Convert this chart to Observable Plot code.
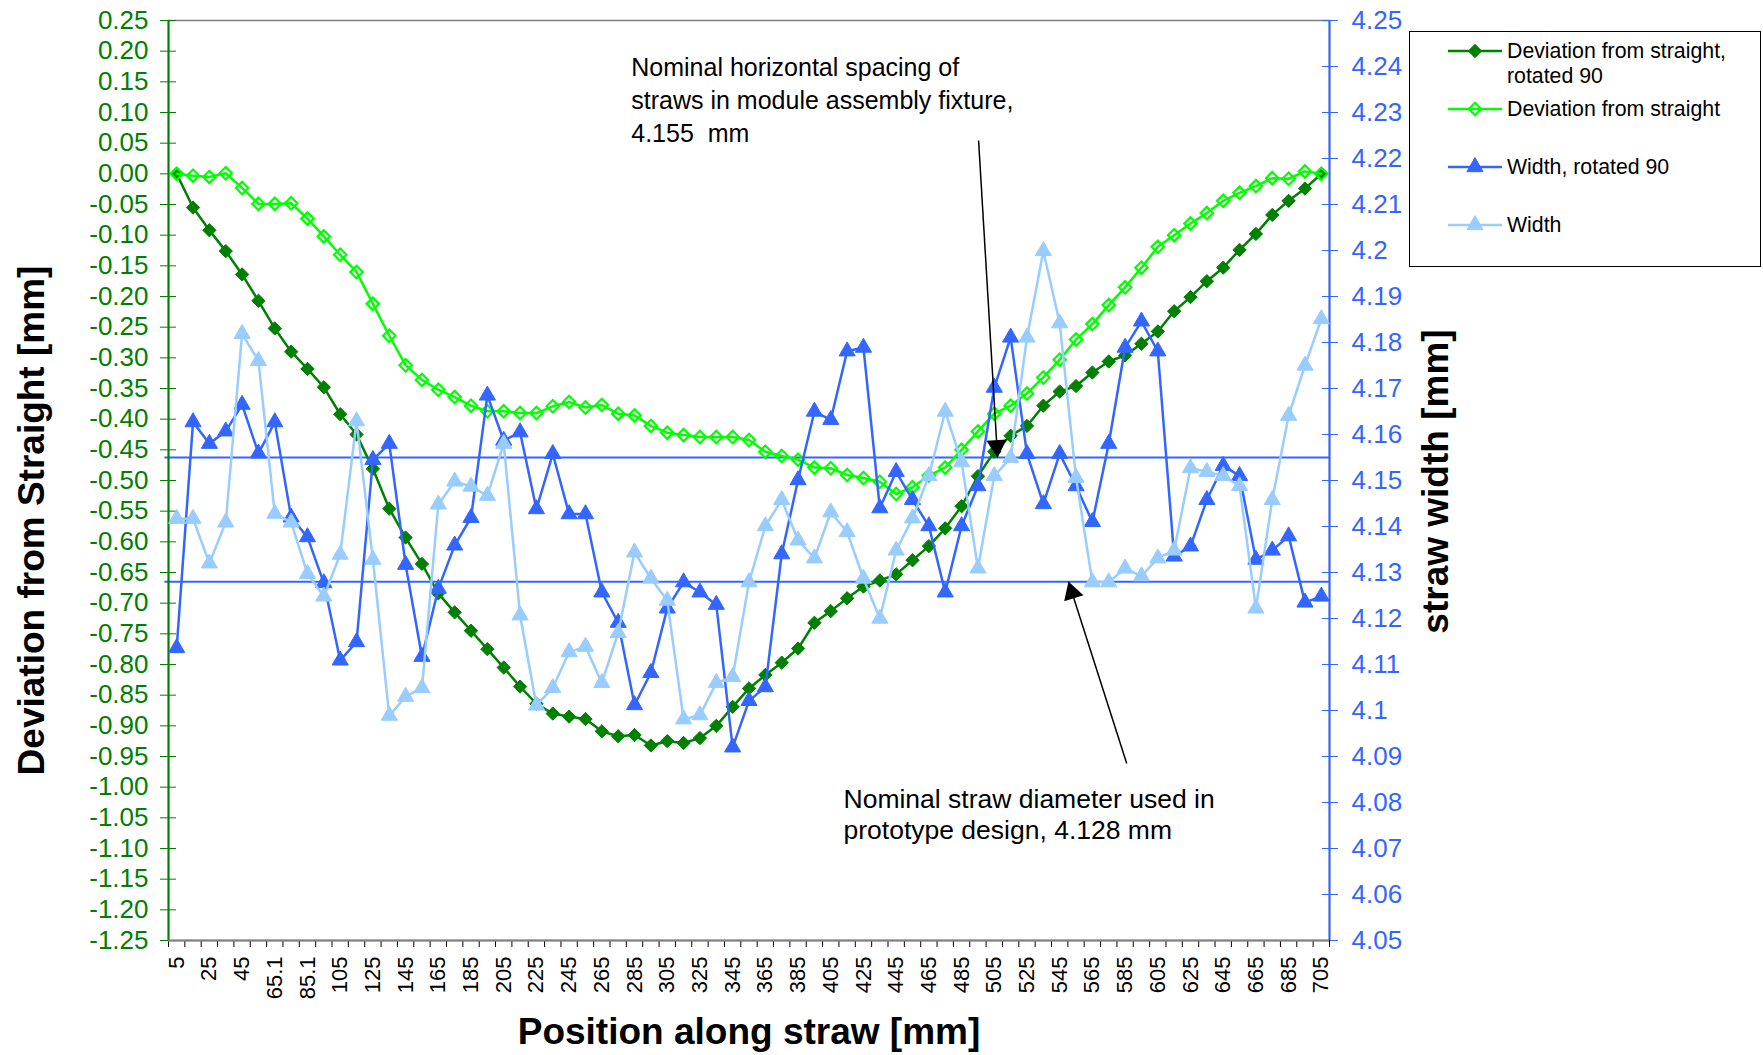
<!DOCTYPE html>
<html>
<head>
<meta charset="utf-8">
<script src="https://cdn.jsdelivr.net/npm/d3@7"></script>
<script src="https://cdn.jsdelivr.net/npm/@observablehq/plot@0.6"></script>
<style>
  html, body { margin: 0; padding: 0; background: #fff; }
  body { font-family: "Liberation Sans", Arial, sans-serif; }
  #wrap { position: relative; width: 1763px; height: 1055px; overflow: hidden; }
  #legend { position: absolute; left: 1409px; top: 31px; width: 352px; height: 236px;
            border: 1.5px solid #000; box-sizing: border-box; background: #fff; }
</style>
</head>
<body>
<div id="wrap"><div id="chart"></div><div id="legend"></div></div>
<script>
// ---------- data ----------
const positions = ["5","15","25","35","45","55","65.1","75","85.1","95","105","115","125","135","145","155","165","175","185","195","205","215","225","235","245","255","265","275","285","295","305","315","325","335","345","355","365","375","385","395","405","415","425","435","445","455","465","475","485","495","505","515","525","535","545","555","565","575","585","595","605","615","625","635","645","655","665","675","685","695","705"];

const devRotated = [0, -0.055, -0.092, -0.126, -0.164, -0.207, -0.252, -0.290, -0.318, -0.348,
  -0.392, -0.425, -0.481, -0.546, -0.593, -0.636, -0.684, -0.715, -0.745, -0.775,
  -0.805, -0.836, -0.864, -0.880, -0.885, -0.889, -0.909, -0.917, -0.915, -0.932,
  -0.925, -0.928, -0.920, -0.900, -0.869, -0.839, -0.817, -0.797, -0.774, -0.732,
  -0.713, -0.692, -0.673, -0.663, -0.653, -0.630, -0.607, -0.578, -0.542, -0.493,
  -0.453, -0.427, -0.411, -0.378, -0.355, -0.346, -0.324, -0.306, -0.296, -0.277,
  -0.257, -0.224, -0.201, -0.175, -0.153, -0.124, -0.098, -0.067, -0.044, -0.024,
  0];

const deviation = [0, -0.003, -0.005, 0.001, -0.023, -0.049, -0.049, -0.048, -0.073, -0.102,
  -0.132, -0.160, -0.212, -0.264, -0.312, -0.336, -0.352, -0.364, -0.378, -0.387,
  -0.387, -0.390, -0.390, -0.379, -0.372, -0.381, -0.377, -0.391, -0.394, -0.411,
  -0.422, -0.426, -0.429, -0.429, -0.429, -0.434, -0.453, -0.460, -0.466, -0.479,
  -0.480, -0.491, -0.496, -0.502, -0.522, -0.511, -0.492, -0.479, -0.450, -0.420,
  -0.391, -0.378, -0.358, -0.332, -0.303, -0.270, -0.245, -0.214, -0.185, -0.153,
  -0.119, -0.100, -0.081, -0.064, -0.044, -0.031, -0.020, -0.007, -0.008, 0.004,
  0];

const widthRotated = [4.1136, 4.1627, 4.1580, 4.1607, 4.1665, 4.1559, 4.1627, 4.1420, 4.1377, 4.1277,
  4.1109, 4.1149, 4.1545, 4.1580, 4.1317, 4.1117, 4.1265, 4.1359, 4.1419, 4.1685,
  4.1587, 4.1605, 4.1438, 4.1558, 4.1427, 4.1427, 4.1257, 4.1191, 4.1012, 4.1082,
  4.1222, 4.1279, 4.1257, 4.1230, 4.0920, 4.1021, 4.1051, 4.1340, 4.1501, 4.1650,
  4.1632, 4.1781, 4.1789, 4.1440, 4.1519, 4.1458, 4.1401, 4.1257, 4.1401, 4.1488,
  4.1702, 4.1811, 4.1558, 4.1449, 4.1558, 4.1488, 4.1410, 4.1580, 4.1789, 4.1846,
  4.1781, 4.1335, 4.1357, 4.1458, 4.1532, 4.1510, 4.1328, 4.1348, 4.1379, 4.1235,
  4.1248];

const width = [4.1417, 4.1417, 4.1320, 4.1409, 4.1819, 4.1760, 4.1428, 4.1409, 4.1297, 4.1248,
  4.1339, 4.1629, 4.1328, 4.0989, 4.1030, 4.1049, 4.1448, 4.1498, 4.1487, 4.1467,
  4.1580, 4.1207, 4.1011, 4.1049, 4.1127, 4.1139, 4.1060, 4.1169, 4.1344, 4.1287,
  4.1239, 4.0981, 4.0990, 4.1060, 4.1073, 4.1279, 4.1401, 4.1458, 4.1370, 4.1331,
  4.1431, 4.1388, 4.1287, 4.1200, 4.1348, 4.1418, 4.1510, 4.1650, 4.1540, 4.1309,
  4.1510, 4.1549, 4.1811, 4.1999, 4.1842, 4.1506, 4.1279, 4.1279, 4.1309, 4.1292,
  4.1331, 4.1348, 4.1527, 4.1519, 4.1510, 4.1488, 4.1222, 4.1458, 4.1641, 4.1750,
  4.1851];

const leftTickLabels = ["0.25","0.20","0.15","0.10","0.05","0.00","-0.05","-0.10","-0.15","-0.20","-0.25","-0.30","-0.35","-0.40","-0.45","-0.50","-0.55","-0.60","-0.65","-0.70","-0.75","-0.80","-0.85","-0.90","-0.95","-1.00","-1.05","-1.10","-1.15","-1.20","-1.25"];
const rightTickLabels = ["4.25","4.24","4.23","4.22","4.21","4.2","4.19","4.18","4.17","4.16","4.15","4.14","4.13","4.12","4.11","4.1","4.09","4.08","4.07","4.06","4.05"];

const referenceWidths = [4.155, 4.128];

const seriesNames = ["Deviation from straight,\nrotated 90", "Deviation from straight", "Width, rotated 90", "Width"];

const annotations = [
  {text: "Nominal horizontal spacing of\nstraws in module assembly fixture,\n4.155  mm", x: 27.8, y: 0.197, size: 25, lh: 1.32},
  {text: "Nominal straw diameter used in\nprototype design, 4.128 mm", x: 40.78, y: -0.997, size: 26.5, lh: 1.19}
];
// arrows: tail (x1,y1 left-axis units) -> tip at a reference width line
const arrows = [
  {x1: 49.04, y1: 0.0543, x2: 50.2, w2: 4.155, rotate: 176.7, hx: -0.7, hy: -11.5},
  {x1: 58.1, y1: -0.9614, x2: 54.54, w2: 4.128, rotate: -17.8, hx: 3.5, hy: 11}
];

// ---------- helpers ----------
const W_MIN = 4.05, W_MAX = 4.25, D_MIN = -1.25, D_MAX = 0.25;
const toLeft = w => D_MIN + (w - W_MIN) / (W_MAX - W_MIN) * (D_MAX - D_MIN);

const rows = positions.map((p, i) => ({
  i, pos: p,
  devRot: devRotated[i], dev: deviation[i],
  wRot: toLeft(widthRotated[i]), w: toLeft(width[i])
}));

const leftTickVals = leftTickLabels.map(Number);
const rightTickVals = rightTickLabels.map(s => toLeft(+s));
const rightMap = new Map(rightTickLabels.map(s => [toLeft(+s).toFixed(4), s]));
const leftMap = new Map(leftTickLabels.map(s => [(+s).toFixed(4), s]));
const edges = positions.map((p, i) => i - 0.5).concat([positions.length - 0.5]);
const labelIdx = positions.map((p, i) => i).filter(i => i % 2 === 0);

const C = {dkGreen: "#008000", ltGreen: "#00ff00", blue: "#3366ff", ltBlue: "#99ccff"};
const FONT = "'Liberation Sans', Arial, sans-serif";

const chart = Plot.plot({
  width: 1763, height: 1055,
  marginLeft: 168, marginRight: 434, marginTop: 20, marginBottom: 115,
  x: {domain: [-0.5, positions.length - 0.5], axis: null},
  y: {domain: [D_MIN, D_MAX], axis: null},
  style: {fontFamily: FONT, background: "white", overflow: "visible"},
  marks: [
    Plot.frame({stroke: "#808080", strokeWidth: 1.5}),
    // reference lines
    Plot.ruleY(referenceWidths, {y: d => toLeft(d), x1: -0.72, x2: positions.length - 0.5, stroke: C.blue, strokeWidth: 2}),
    // axes
    Plot.axisY({anchor: "left", ticks: leftTickVals, tickFormat: d => leftMap.get(d.toFixed(4)), tickSize: 16, dx: 8, tickPadding: 12, color: C.dkGreen, fontSize: 26, label: null}),
    Plot.axisY({anchor: "right", ticks: rightTickVals, tickFormat: d => rightMap.get(d.toFixed(4)), tickSize: 16, dx: -8, tickPadding: 14, color: C.blue, fontSize: 26, label: null}),
    Plot.axisX({ticks: edges, tickSize: 7, tickFormat: () => "", color: "#000", label: null}),
    Plot.axisX({ticks: labelIdx, tickSize: 0, tickPadding: 16, tickRotate: -90, tickFormat: i => positions[i], color: "#000", fontSize: 22, label: null}),
    Plot.ruleX([-0.5], {stroke: C.dkGreen, strokeWidth: 2}),
    Plot.ruleX([positions.length - 0.5], {stroke: C.blue, strokeWidth: 2}),
    Plot.ruleY([D_MIN], {stroke: "#808080", strokeWidth: 2}),
    // series
    Plot.line(rows, {x: "i", y: "devRot", stroke: C.dkGreen, strokeWidth: 2.5}),
    Plot.dot(rows, {x: "i", y: "devRot", symbol: "diamond2", r: 6, fill: C.dkGreen, stroke: C.dkGreen, strokeWidth: 1}),
    Plot.line(rows, {x: "i", y: "dev", stroke: C.ltGreen, strokeWidth: 2.5}),
    Plot.dot(rows, {x: "i", y: "dev", symbol: "diamond2", r: 5.6, fill: "none", stroke: C.ltGreen, strokeWidth: 2.2}),
    Plot.line(rows, {x: "i", y: "wRot", stroke: C.blue, strokeWidth: 2.5}),
    Plot.dot(rows, {x: "i", y: "wRot", symbol: "triangle", r: 6, fill: C.blue, stroke: C.blue, strokeWidth: 1}),
    Plot.line(rows, {x: "i", y: "w", stroke: C.ltBlue, strokeWidth: 2.5}),
    Plot.dot(rows, {x: "i", y: "w", symbol: "triangle", r: 6, fill: C.ltBlue, stroke: C.ltBlue, strokeWidth: 1}),
    // annotations
    Plot.text(annotations.slice(0, 1), {x: "x", y: "y", text: "text", textAnchor: "start", lineAnchor: "top", lineHeight: annotations[0].lh, fontSize: annotations[0].size, fill: "#000"}),
    Plot.text(annotations.slice(1), {x: "x", y: "y", text: "text", textAnchor: "start", lineAnchor: "top", lineHeight: annotations[1].lh, fontSize: annotations[1].size, fill: "#000"}),
    Plot.link(arrows, {x1: "x1", y1: "y1", x2: "x2", y2: d => toLeft(d.w2), stroke: "#000", strokeWidth: 1.5}),
    Plot.dot(arrows, {x: "x2", y: d => toLeft(d.w2), symbol: "triangle", r: 7.5, fill: "#000", stroke: "none", rotate: "rotate"}),
    // axis titles
    Plot.text(["Deviation from Straight [mm]"], {frameAnchor: "left", textAnchor: "middle", dx: -136, dy: 40, rotate: -90, fontSize: 37, fontWeight: "bold", fill: "#000"}),
    Plot.text(["straw width [mm]"], {frameAnchor: "right", textAnchor: "middle", dx: 107, dy: 1, rotate: -90, fontSize: 37, fontWeight: "bold", fill: "#000"}),
    Plot.text(["Position along straw [mm]"], {frameAnchor: "bottom", textAnchor: "middle", dy: 103, fontSize: 37, fontWeight: "bold", fill: "#000"})
  ]
});
document.getElementById("chart").appendChild(chart);

// shift arrowheads back from the tip along their direction (screen offsets)
d3.select(chart).selectAll("g[aria-label='dot']").filter((d, k, n) => {
  const g = n[k]; return g.querySelectorAll("path").length === arrows.length && g.getAttribute("fill") === "#000";
}).selectAll("path").each(function(_, k) {
  const t = this.getAttribute("transform") || "";
  this.setAttribute("transform", `translate(${arrows[k].hx},${arrows[k].hy}) ` + t);
});

// ---------- legend ----------
const legendStyles = [
  {color: C.dkGreen, symbol: d3.symbolDiamond2, fill: C.dkGreen, sw: 2.5, size: Math.PI * 6 * 6, y: 19},
  {color: C.ltGreen, symbol: d3.symbolDiamond2, fill: "none", sw: 2.5, size: Math.PI * 5.6 * 5.6, y: 77},
  {color: C.blue, symbol: d3.symbolTriangle, fill: C.blue, sw: 2.5, size: Math.PI * 6 * 6, y: 135},
  {color: C.ltBlue, symbol: d3.symbolTriangle, fill: C.ltBlue, sw: 2.5, size: Math.PI * 6 * 6, y: 193}
];
const lsvg = d3.select("#legend").append("svg").attr("width", 350).attr("height", 234)
  .style("font-family", FONT);
seriesNames.forEach((name, k) => {
  const s = legendStyles[k];
  const g = lsvg.append("g");
  g.append("line").attr("x1", 38).attr("x2", 92).attr("y1", s.y).attr("y2", s.y)
    .attr("stroke", s.color).attr("stroke-width", s.sw);
  g.append("path").attr("d", d3.symbol(s.symbol, s.size)()).attr("transform", `translate(65,${s.y})`)
    .attr("fill", s.fill).attr("stroke", s.color).attr("stroke-width", s.fill === "none" ? 2.2 : 1);
  const t = g.append("text").attr("x", 97).attr("y", s.y).attr("font-size", 21.3).attr("fill", "#000");
  name.split("\n").forEach((line, j) => {
    t.append("tspan").attr("x", 97).attr("dy", j === 0 ? "0.35em" : 25).text(line);
  });
});
</script>
</body>
</html>
